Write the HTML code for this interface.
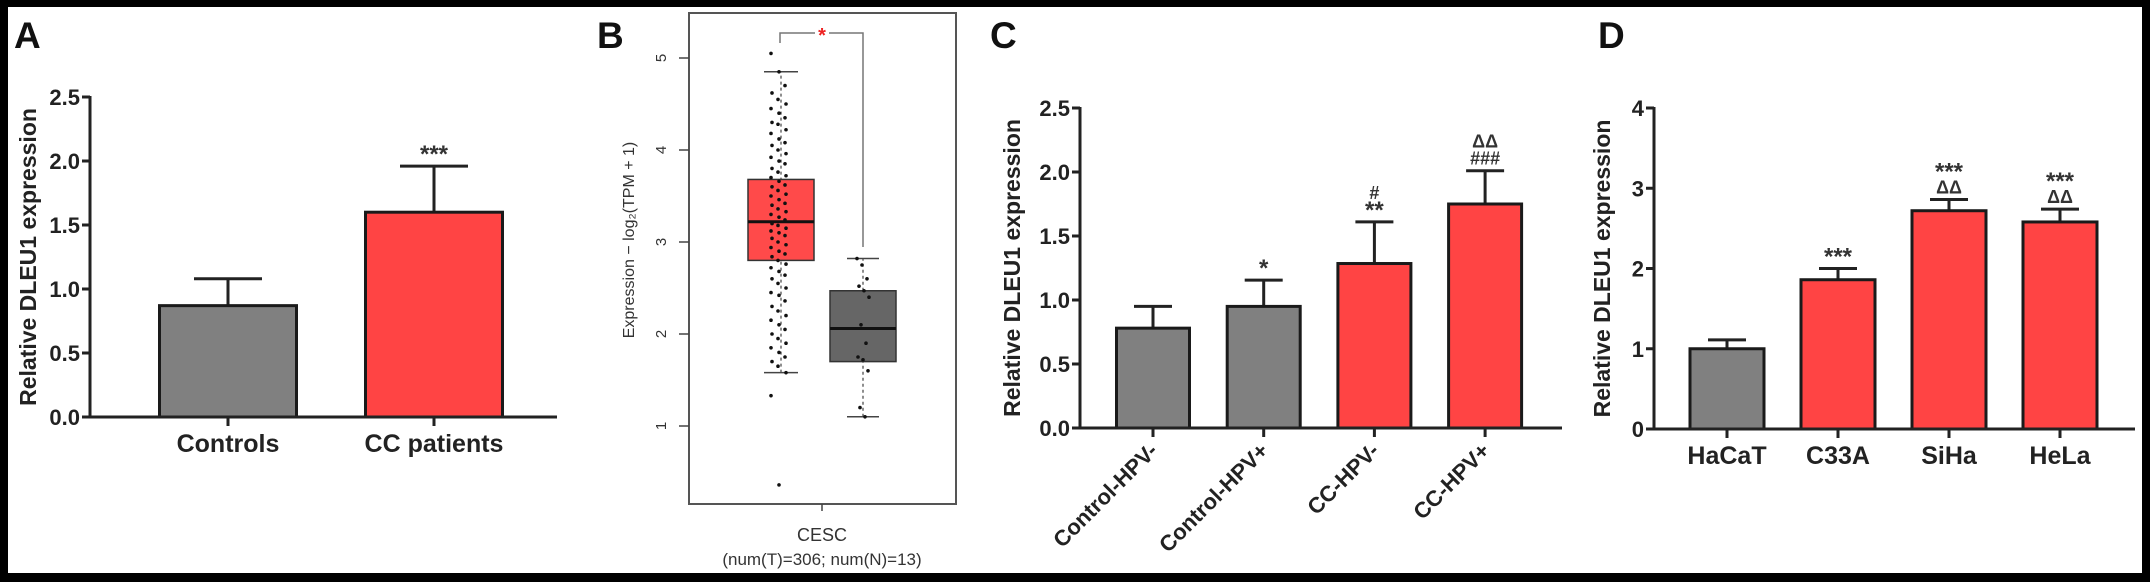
<!DOCTYPE html>
<html><head><meta charset="utf-8">
<style>
html,body{margin:0;padding:0;background:#000;}
svg{display:block;font-family:"Liberation Sans",Arial,sans-serif;}
</style></head>
<body>
<svg id="fig" width="2150" height="582" viewBox="0 0 2150 582" xmlns="http://www.w3.org/2000/svg">
<rect x="0" y="0" width="2150" height="582" fill="#000"/>
<rect x="8" y="7" width="2134" height="566" fill="#fff"/>
<g id="root"></g>
</svg>
<script>
// ---- Panel A data ----
const aCats = ["Controls","CC patients"];
const aVals = [0.87, 1.60];
const aErr = [1.08, 1.96];
const aSig = ["", "***"];
const aTicks = ["0.0","0.5","1.0","1.5","2.0","2.5"];
const aTickVals = [0,0.5,1,1.5,2,2.5];
// ---- Panel C data ----
const cCats = ["Control-HPV-","Control-HPV+","CC-HPV-","CC-HPV+"];
const cVals = [0.78, 0.95, 1.285, 1.75];
const cErr = [0.95, 1.155, 1.61, 2.01];
const cSig1 = ["", "*", "**", "###"];
const cSig2 = ["", "", "#", "\u0394\u0394"];
const cTicks = ["0.0","0.5","1.0","1.5","2.0","2.5"];
const cTickVals = [0,0.5,1,1.5,2,2.5];
// ---- Panel D data ----
const dCats = ["HaCaT","C33A","SiHa","HeLa"];
const dVals = [1.0, 1.86, 2.72, 2.58];
const dErr = [1.11, 2.0, 2.86, 2.74];
const dSig1 = ["", "***", "\u0394\u0394", "\u0394\u0394"];
const dSig2 = ["", "", "***", "***"];
const dTicks = ["0","1","2","3","4"];
const dTickVals = [0,1,2,3,4];
// ---- Panel B data ----
const bTickVals = [1,2,3,4,5];
const bTumorBox = [1.58, 2.8, 3.22, 3.68, 4.85];
const bNormalBox = [1.1, 1.7, 2.06, 2.47, 2.82];
const bTumorPts = [5.05,4.85,4.7,4.62,4.55,4.5,4.45,4.4,4.35,4.3,4.28,4.22,4.18,4.12,4.08,4.05,4.0,3.96,3.92,3.88,3.85,3.8,3.76,3.72,3.7,3.66,3.62,3.6,3.56,3.52,3.5,3.46,3.42,3.4,3.36,3.33,3.3,3.27,3.24,3.2,3.18,3.15,3.12,3.1,3.07,3.04,3.0,2.97,2.94,2.9,2.87,2.84,2.8,2.76,2.72,2.68,2.64,2.6,2.55,2.5,2.45,2.42,2.36,2.3,2.25,2.2,2.15,2.1,2.05,2.0,1.95,1.9,1.85,1.8,1.75,1.7,1.65,1.58,1.33,0.36];
const bNormalPts = [2.82,2.75,2.6,2.52,2.47,2.4,2.1,1.9,1.75,1.72,1.6,1.2,1.1];

const NS="http://www.w3.org/2000/svg";
const root=document.getElementById('root');
function mk(tag,attrs,parent,name,txt){
  const e=document.createElementNS(NS,tag);
  for(const k in attrs)e.setAttribute(k,attrs[k]);
  
  
  if(txt!==undefined)e.textContent=txt;
  (parent||root).appendChild(e);return e;
}
function barPanel(o){
  const g=mk('g',{},root,o.name);
  const y=v=>o.y0-(v-o.vmin)/(o.vmax-o.vmin)*(o.y0-o.ytop);
  mk('text',{x:o.letterX,y:48,'font-size':37,'font-weight':'bold',fill:'#111'},g,'panel-letter',o.letter);
  // y axis
  mk('line',{x1:o.ax,y1:o.ytop-1,x2:o.ax,y2:o.y0,stroke:'#222','stroke-width':3},g,'y-axis-line');
  o.tickVals.forEach((t,i)=>{
    mk('line',{x1:o.ax-8,y1:y(t),x2:o.ax,y2:y(t),stroke:'#222','stroke-width':3},g,'y-tick');
    mk('text',{x:o.ax-10,y:y(t)+8,'font-size':22,'font-weight':'bold','text-anchor':'end',fill:'#222'},g,'y-tick-label',o.ticks[i]);
  });
  const cy=(o.ytop+o.y0)/2;
  mk('text',{x:o.ylx,y:cy,'font-size':23,'font-weight':'bold','text-anchor':'middle',fill:'#222',transform:`rotate(-90 ${o.ylx} ${cy})`},g,'y-axis-title','Relative DLEU1 expression');
  o.cats.forEach((c,i)=>{
    const cx=o.c0+i*o.step, top=y(o.vals[i]), et=y(o.err[i]);
    const bw=o.bw, cw=o.cw;
    mk('line',{x1:cx,y1:et,x2:cx,y2:top,stroke:'#222','stroke-width':3},g,'error-bar');
    mk('line',{x1:cx-cw/2,y1:et,x2:cx+cw/2,y2:et,stroke:'#222','stroke-width':3},g,'error-cap');
    mk('rect',{x:cx-bw/2,y:top,width:bw,height:o.y0-top,fill:o.colors[i],stroke:'#1a1a1a','stroke-width':3},g,'bar-'+c.toLowerCase().replace(/[^a-z0-9]+/g,'-'));
    mk('line',{x1:cx,y1:o.y0,x2:cx,y2:o.y0+9,stroke:'#222','stroke-width':3},g,'x-tick');
    if(o.sig1[i])mk('text',{x:cx,y:et-(o.sig1[i].includes('*')?4:6),'font-size':o.sig1[i].includes('*')?24:18,'font-weight':'bold','text-anchor':'middle',fill:'#333'},g,'significance-mark',o.sig1[i]);
    if(o.sig2&&o.sig2[i])mk('text',{x:cx,y:et-(o.sig2[i].includes('*')?20:23),'font-size':o.sig2[i].includes('*')?24:18,'font-weight':'bold','text-anchor':'middle',fill:'#333'},g,'significance-mark',o.sig2[i]);
    if(o.rot){
      const tx=cx+6, ty=o.y0+24;
      mk('text',{x:tx,y:ty,'font-size':22,'font-weight':'bold','text-anchor':'end',fill:'#222',transform:`rotate(-45 ${tx} ${ty})`},g,'x-tick-label',c);
    } else {
      mk('text',{x:cx,y:o.y0+35,'font-size':25,'font-weight':'bold','text-anchor':'middle',fill:'#222'},g,'x-tick-label',c);
    }
  });
  mk('line',{x1:o.ax,y1:o.y0,x2:o.axEnd,y2:o.y0,stroke:'#222','stroke-width':3},g,'x-axis-line');
}
const GR='#808080', RD='#ff4444';
barPanel({name:'panel-a',letter:'A',letterX:14,ax:90,axEnd:557,y0:417,ytop:97,vmin:0,vmax:2.5,ticks:aTicks,tickVals:aTickVals,ylx:36,
  cats:aCats,vals:aVals,err:aErr,sig1:aSig,c0:228,step:206,bw:137,cw:68,colors:[GR,RD]});
barPanel({name:'panel-c',letter:'C',letterX:990,ax:1080,axEnd:1562,y0:428,ytop:108,vmin:0,vmax:2.5,ticks:cTicks,tickVals:cTickVals,ylx:1020,
  cats:cCats,vals:cVals,err:cErr,sig1:cSig1,sig2:cSig2,c0:1153,step:110.7,bw:73,cw:38,colors:[GR,GR,RD,RD],rot:true});
barPanel({name:'panel-d',letter:'D',letterX:1598,ax:1654,axEnd:2135,y0:429,ytop:108,vmin:0,vmax:4,ticks:dTicks,tickVals:dTickVals,ylx:1610,
  cats:dCats,vals:dVals,err:dErr,sig1:dSig1,sig2:dSig2,c0:1727,step:111,bw:74,cw:38,colors:[GR,RD,RD,RD]});

// ---- Panel B ----
(function(){
  const g=mk('g',{},root,'panel-b');
  const y=v=>426-(v-1)*92;
  mk('text',{x:597,y:48,'font-size':37,'font-weight':'bold',fill:'#111'},g,'panel-letter','B');
  mk('rect',{x:689,y:13,width:267,height:491,fill:'#fff',stroke:'#555','stroke-width':2},g,'plot-frame');
  bTickVals.forEach(t=>{
    mk('line',{x1:679,y1:y(t),x2:689,y2:y(t),stroke:'#444','stroke-width':1.5},g,'y-tick');
    mk('text',{x:666,y:y(t),'font-size':15,'text-anchor':'middle',fill:'#333',transform:`rotate(-90 666 ${y(t)})`},g,'y-tick-label',String(t));
  });
  mk('text',{x:634,y:240,'font-size':16,'text-anchor':'middle',fill:'#333',transform:'rotate(-90 634 240)'},g,'y-axis-title','Expression \u2212 log\u2082(TPM + 1)');
  function box(b,cx,bw,cw,fill,nm){
    mk('line',{x1:cx,y1:y(b[0]),x2:cx,y2:y(b[4]),stroke:'#444','stroke-width':1.2,'stroke-dasharray':'3,3'},g,nm+'-whisker');
    mk('line',{x1:cx-cw/2,y1:y(b[4]),x2:cx+cw/2,y2:y(b[4]),stroke:'#444','stroke-width':1.5},g,nm+'-cap-top');
    mk('line',{x1:cx-cw/2,y1:y(b[0]),x2:cx+cw/2,y2:y(b[0]),stroke:'#444','stroke-width':1.5},g,nm+'-cap-bottom');
    mk('rect',{x:cx-bw/2,y:y(b[3]),width:bw,height:y(b[1])-y(b[3]),fill:fill,stroke:'#333','stroke-width':1.5},g,nm+'-box');
    mk('line',{x1:cx-bw/2,y1:y(b[2]),x2:cx+bw/2,y2:y(b[2]),stroke:'#111','stroke-width':3},g,nm+'-median');
  }
  box(bTumorBox,781,66,34,'#ff4a4a','tumor');
  box(bNormalBox,863,66,32,'#666','normal');
  bTumorPts.forEach((v,i)=>{
    mk('circle',{cx:781+((i*7)%21)-10+(i%2),cy:y(v),r:1.8,fill:'#111'},g,'tumor-point');
  });
  bNormalPts.forEach((v,i)=>{
    mk('circle',{cx:863+((i*5)%13)-6,cy:y(v),r:1.8,fill:'#111'},g,'normal-point');
  });
  mk('polyline',{points:'780,43 780,33 815,33',fill:'none',stroke:'#777','stroke-width':1.5},g,'significance-bracket');
  mk('polyline',{points:'829,33 863,33 863,247',fill:'none',stroke:'#777','stroke-width':1.5},g,'significance-bracket');
  mk('text',{x:822,y:42,'font-size':20,'font-weight':'bold','text-anchor':'middle',fill:'#e22'},g,'significance-star','*');
  mk('line',{x1:822,y1:504,x2:822,y2:511,stroke:'#444','stroke-width':1.5},g,'x-tick');
  mk('text',{x:822,y:541,'font-size':18,'text-anchor':'middle',fill:'#333'},g,'x-tick-label','CESC');
  mk('text',{x:822,y:565,'font-size':17,'text-anchor':'middle',fill:'#333'},g,'x-sublabel','(num(T)=306; num(N)=13)');
})();
</script>
</body></html>
